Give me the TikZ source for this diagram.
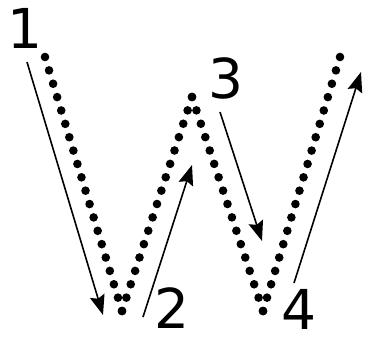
\documentclass[tikz,border=0pt]{standalone}
\usepackage{fontspec}
\setmainfont{DejaVu Sans}
\usetikzlibrary{arrows.meta,calc}
\begin{document}
\begin{tikzpicture}[x=1pt,y=-1pt,
  lbl/.style={inner sep=0pt,font=\fontsize{55}{60}\selectfont},
  arr/.style={line width=1.6pt,-{Stealth[length=20pt,width=15pt,inset=3pt]}}]
\useasboundingbox (0,0) rectangle (371,338);
% W vertices
\coordinate (w0) at (45,57);
\coordinate (w1) at (122,311);
\coordinate (w2) at (192,97);
\coordinate (w3) at (263,311);
\coordinate (w4) at (340,57);
\foreach \a/\b/\n in {w0/w1/19, w1/w2/16, w2/w3/16, w3/w4/19}{
  \foreach \i in {0,...,\n}{
    \fill ($(\a)!\i/\n!(\b)$) circle (4.3pt);
  }
}
% labels
\node[lbl] (n1) at (25,28) {1};
\node[lbl] (n2) at (172,308) {2};
\node[lbl] (n3) at (226,78) {3};
\node[lbl] (n4) at (299,309) {4};
% arrow endpoints
\coordinate (a1s) at (27,62);
\coordinate (a1e) at (103,315);
\coordinate (a2s) at (143,317);
\coordinate (a2e) at (192,165);
\coordinate (a3s) at (220,112);
\coordinate (a3e) at (262,241);
\coordinate (a4s) at (294,283);
\coordinate (a4e) at (361,72);
\draw[arr] (a1s) -- (a1e);
\draw[arr] (a2s) -- (a2e);
\draw[arr] (a3s) -- (a3e);
\draw[arr] (a4s) -- (a4e);
\end{tikzpicture}
\end{document}
